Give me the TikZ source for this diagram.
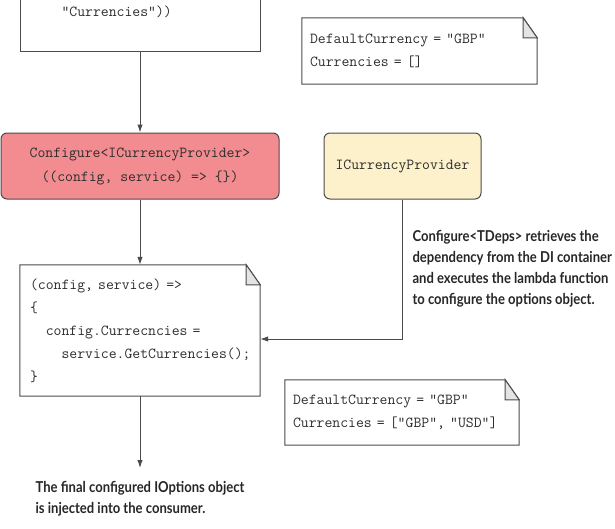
\documentclass[tikz,border=0pt]{standalone}
\usepackage{fontspec}
\newfontfamily\calloutfont{Lato}[FakeStretch=0.87]
\usetikzlibrary{arrows.meta}

\definecolor{cfgred}{RGB}{242,140,144}
\definecolor{provyellow}{RGB}{253,241,203}
\definecolor{edgegray}{RGB}{75,75,75}
\definecolor{codegray}{RGB}{45,45,45}
\definecolor{foldgray}{RGB}{228,228,228}

\tikzset{
  code/.style={font=\ttfamily\fontsize{15.3}{22.5}\selectfont, text=codegray},
  callout/.style={font=\calloutfont\bfseries\fontsize{15}{21}\selectfont, text=black!85, align=left},
  notebox/.style={code, align=left, inner xsep=8pt, inner ysep=0pt},
  servicebox/.style={code, align=center, draw=edgegray, line width=1pt, rounded corners=6pt},
  link/.style={draw=edgegray, line width=1pt}
}

% note outline with a folded corner
\newcommand{\foldnote}[1]{%
  \draw[link] (#1.south west) -- (#1.north west) -- ([xshift=-14pt]#1.north east)
    -- ([yshift=-20pt]#1.north east) -- (#1.south east) -- cycle;
  \filldraw[link, fill=foldgray] ([xshift=-14pt]#1.north east)
    -- ([xshift=-14pt,yshift=-20pt]#1.north east) -- ([yshift=-20pt]#1.north east) -- cycle;}

\begin{document}
\begin{tikzpicture}[x=1pt,y=-1pt,>={Latex[length=8pt,width=5.5pt]}]
\useasboundingbox (0,0) rectangle (615,528);

% options binding, cut off at the top
\node (bind) [link, draw, minimum width=240pt, minimum height=120pt, anchor=south, inner sep=0pt] at (140,52) {};
\node (bindtxt) [code, anchor=west] at (58,12) {"Currencies"))};

\node (before) [notebox, text width=219pt, minimum height=66pt] at (419.5,51) {DefaultCurrency = "GBP"\\Currencies = []};
\foldnote{before}

\node (cfg) [servicebox, fill=cfgred, minimum width=278pt, minimum height=66pt] at (140,166)
  {Configure<ICurrencyProvider>\\[1.5pt]((config, service) => \{\})};
\node (prov) [servicebox, fill=provyellow, minimum width=157pt, minimum height=66pt] at (402.5,166) {ICurrencyProvider};

\node (explain) [callout, anchor=west] at (409,268.5) {Configure<TDeps> retrieves the\\dependency from the DI container\\and executes the lambda function\\to configure the options object.};

\node (lambda) [notebox, font=\ttfamily\fontsize{15.3}{23}\selectfont, inner xsep=10pt, text width=220pt, minimum height=131pt] at (140,330.5)
  {(config, service) =>\\\{\\\phantom{xx}config.Currecncies =\\\phantom{xxxx}service.GetCurrencies();\\\}};
\foldnote{lambda}

\node (after) [notebox, text width=218pt, minimum height=65pt] at (402,412.5) {DefaultCurrency = "GBP"\\Currencies = ["GBP", "USD"]};
\foldnote{after}

\node (result) [callout, anchor=north, inner ysep=13pt] at (140,468) {The final configured IOptions object\\is injected into the consumer.};

\draw[link,->] (bind.south) -- (cfg.north);
\draw[link,->] (cfg.south) -- (lambda.north);
\draw[link,->] (prov.south) |- ([yshift=-8.5pt]lambda.east);
\draw[link,->] (lambda.south) -- (result.north);
\end{tikzpicture}
\end{document}
